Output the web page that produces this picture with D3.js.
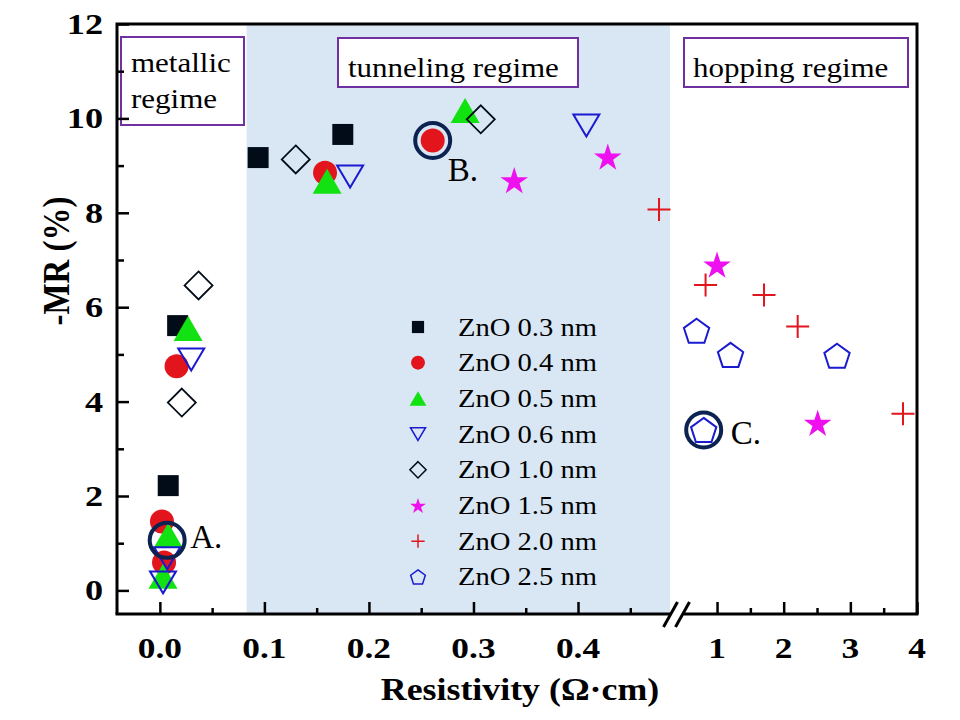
<!DOCTYPE html>
<html><head><meta charset="utf-8">
<script src="https://cdn.jsdelivr.net/npm/d3@7"></script>
<style>body{margin:0;background:#fff}</style>
</head><body>
<svg id="chart" width="960" height="720"></svg>
<script>
// ---------------- data ----------------
const seriesNames = ["ZnO 0.3 nm","ZnO 0.4 nm","ZnO 0.5 nm","ZnO 0.6 nm","ZnO 1.0 nm","ZnO 1.5 nm","ZnO 2.0 nm","ZnO 2.5 nm"];
const zno03_x = [0.008, 0.017, 0.094, 0.175];
const zno03_y = [2.22, 5.61, 9.17, 9.66];
const zno04_x = [0.002, 0.004, 0.016, 0.158, 0.261];
const zno04_y = [1.46, 0.59, 4.75, 8.85, 9.53];
const zno05_x = [0.003, 0.008, 0.027, 0.160, 0.292];
const zno05_y = [0.30, 1.17, 5.55, 8.67, 10.17];
const zno06_x = [0.003, 0.007, 0.030, 0.182, 0.408];
const zno06_y = [0.17, 0.68, 4.89, 8.77, 9.85];
const zno10_x = [0.021, 0.037, 0.130, 0.307];
const zno10_y = [3.98, 6.46, 9.13, 9.98];
const zno15_x = [0.339, 0.4285, 1.0, 2.51];
const zno15_y = [8.69, 9.19, 6.90, 3.55];
const zno20_x = [0.4775, 0.828, 1.705, 2.21, 3.79];
const zno20_y = [8.07, 6.47, 6.26, 5.59, 3.74];
const zno25_x = [0.693, 0.80, 1.203, 2.80];
const zno25_y = [5.50, 3.40, 4.99, 4.97];
const highlightLabels = ["A.", "B.", "C."];
const highlightX = [0.007, 0.261, 0.80];
const highlightY = [1.06, 9.53, 3.40];
const regimeLabels = [["metallic","regime"], ["tunneling regime"], ["hopping regime"]];
const xTicksLeft = [0, 0.1, 0.2, 0.3, 0.4];
const xTickLabelsLeft = ["0.0","0.1","0.2","0.3","0.4"];
const xMinorLeft = [0.05, 0.15, 0.25, 0.35, 0.45];
const xTicksRight = [1, 2, 3, 4];
const xMinorRight = [1.5, 2.5, 3.5];
const yTicks = [0, 2, 4, 6, 8, 10, 12];
const yMinor = [1, 3, 5, 7, 9, 11];
const shadeFrom = 0.083;

// ---------------- layout ----------------
const svg = d3.select("#chart");
const L = 117, T = 24, R = 917, B = 614;
const y = d3.scaleLinear().domain([-0.5, 12]).range([B, T]);
const xL = d3.scaleLinear().domain([-0.041, 0.488]).range([L, 670]);
const xR = d3.scaleLinear().domain([0.5, 4]).range([683.7, R]);
const xPos = v => v < 0.49 ? xL(v) : xR(v);

const C = {
  black: "#020c18", red: "#e2141c", green: "#12e212", blue: "#1a1ad0",
  magenta: "#ee10ee", navy: "#0c2352", shade: "#d9e7f4", purple: "#7030a0"
};
const serif = "'Liberation Serif','Times New Roman',serif";

// symbol paths centred on bounding-box centre
const P = {
  square: s => `M${-s/2},${-s/2}h${s}v${s}h${-s}Z`,
  circle: d => { const r = d/2; return `M${-r},0A${r},${r} 0 1,0 ${r},0A${r},${r} 0 1,0 ${-r},0Z`; },
  triUp: (w, h) => `M0,${-h/2}L${w/2},${h/2}L${-w/2},${h/2}Z`,
  triDown: (w, h) => `M0,${h/2}L${w/2},${-h/2}L${-w/2},${-h/2}Z`,
  diamond: a => `M0,${-a}L${a},0L0,${a}L${-a},0Z`,
  star: r => { const pts = []; const dy = 0.0955*r;
    for (let i = 0; i < 10; i++) { const rr = i % 2 ? r*0.382 : r; const a = -Math.PI/2 + i*Math.PI/5;
      pts.push([rr*Math.cos(a), rr*Math.sin(a) + dy]); }
    return "M" + pts.map(p => p.join(",")).join("L") + "Z"; },
  plus: s => `M${-s/2},0H${s/2}M0,${-s/2}V${s/2}`,
  pentagon: r => { const pts = []; const dy = 0.0955*r;
    for (let i = 0; i < 5; i++) { const a = -Math.PI/2 + i*2*Math.PI/5; pts.push([r*Math.cos(a), r*Math.sin(a) + dy]); }
    return "M" + pts.map(p => p.join(",")).join("L") + "Z"; }
};

const styles = [
  {path: k => P.square(21*k), fill: C.black, stroke: "none", sw: 0},
  {path: k => P.circle(24*k), fill: C.red, stroke: "none", sw: 0},
  {path: k => P.triUp(29*k, 25*k), fill: C.green, stroke: "none", sw: 0},
  {path: k => P.triDown(26*k, 22*k), fill: "none", stroke: C.blue, sw: 2},
  {path: k => P.diamond(14*k), fill: "none", stroke: C.black, sw: 1.8},
  {path: k => P.star(14.5*k), fill: C.magenta, stroke: "none", sw: 0},
  {path: k => P.plus(23*k), fill: "none", stroke: C.red, sw: 2},
  {path: k => P.pentagon(13.3*k), fill: "none", stroke: C.blue, sw: 2}
];
const seriesX = [zno03_x, zno04_x, zno05_x, zno06_x, zno10_x, zno15_x, zno20_x, zno25_x];
const seriesY = [zno03_y, zno04_y, zno05_y, zno06_y, zno10_y, zno15_y, zno20_y, zno25_y];

// ---------------- background shading ----------------
svg.append("rect").attr("x", xL(shadeFrom)).attr("y", T)
  .attr("width", xL.range()[1] - xL(shadeFrom)).attr("height", B - T).attr("fill", C.shade);

// ---------------- regime boxes ----------------
const boxes = [
  {x: 121, y: 37, w: 123, h: 88, tx: 131, ty: [72, 108]},
  {x: 338, y: 38, w: 240, h: 49, tx: 348, ty: [77]},
  {x: 684, y: 38, w: 224, h: 49, tx: 693, ty: [77]}
];
boxes.forEach((b, i) => {
  svg.append("rect").attr("x", b.x).attr("y", b.y).attr("width", b.w).attr("height", b.h)
    .attr("fill", "#fff").attr("stroke", C.purple).attr("stroke-width", 2);
  regimeLabels[i].forEach((t, j) => {
    svg.append("text").attr("transform", `translate(${b.tx},${b.ty[j]}) scale(1.17,1)`)
      .attr("font-family", serif).attr("font-size", 26.5).attr("fill", "#000")
      .attr("xml:space", "preserve").text(t);
  });
});

// ---------------- axes (ticks inward) ----------------
const axisG = svg.append("g");
const yAxis = d3.axisLeft(y).tickValues(yTicks).tickSizeInner(-12).tickSizeOuter(0).tickFormat("");
const yAxisMinor = d3.axisLeft(y).tickValues(yMinor).tickSizeInner(-7).tickSizeOuter(0).tickFormat("");
[yAxis, yAxisMinor].forEach(ax => {
  const g = axisG.append("g").attr("transform", `translate(${L},0)`).call(ax);
  g.select(".domain").remove();
  g.selectAll("line").attr("stroke", "#000").attr("stroke-width", 2.5);
});
const xAxes = [
  d3.axisBottom(xL).tickValues(xTicksLeft).tickSizeInner(-12),
  d3.axisBottom(xL).tickValues(xMinorLeft).tickSizeInner(-6),
  d3.axisBottom(xR).tickValues(xTicksRight).tickSizeInner(-12),
  d3.axisBottom(xR).tickValues(xMinorRight).tickSizeInner(-6)
];
xAxes.forEach(ax => {
  const g = axisG.append("g").attr("transform", `translate(0,${B})`).call(ax.tickSizeOuter(0).tickFormat(""));
  g.select(".domain").remove();
  g.selectAll("line").attr("stroke", "#000").attr("stroke-width", 2.5);
});

// frame
const frame = svg.append("g").attr("stroke", "#000").attr("stroke-width", 3).attr("fill", "none");
frame.append("path").attr("d", `M${L},${B}V${T}H${R}V${B}`);
frame.append("path").attr("d", `M${L-1.5},${B}H${xL.range()[1]}`);
frame.append("path").attr("d", `M${xR.range()[0]},${B}H${R+1.5}`);
// break marks
[670.5, 682.5].forEach(cx => {
  frame.append("path").attr("d", `M${cx-7},${B+13}L${cx+7},${B-12}`).attr("stroke-width", 3);
});

// tick labels
yTicks.forEach(v => {
  svg.append("text").attr("transform", `translate(${L-14},${y(v)+10}) scale(1.25,1)`)
    .attr("text-anchor", "end").attr("font-family", serif).attr("font-weight", "bold")
    .attr("font-size", 29).text(d3.format("d")(v));
});
xTicksLeft.forEach((v, i) => {
  svg.append("text").attr("transform", `translate(${xL(v)},${658}) scale(1.22,1)`)
    .attr("text-anchor", "middle").attr("font-family", serif).attr("font-weight", "bold")
    .attr("font-size", 29).text(xTickLabelsLeft[i]);
});
xTicksRight.forEach(v => {
  svg.append("text").attr("transform", `translate(${xR(v)},${658}) scale(1.22,1)`)
    .attr("text-anchor", "middle").attr("font-family", serif).attr("font-weight", "bold")
    .attr("font-size", 29).text(String(v));
});

// axis titles
svg.append("text").attr("transform", `translate(520,700) scale(1.12,1)`)
  .attr("text-anchor", "middle").attr("font-family", serif).attr("font-weight", "bold")
  .attr("font-size", 32).text("Resistivity (Ω·cm)");
svg.append("text").attr("transform", `translate(69,261) rotate(-90) scale(1,1.12)`)
  .attr("text-anchor", "middle").attr("font-family", serif).attr("font-weight", "bold")
  .attr("font-size", 33).text("-MR (%)");

// ---------------- data points ----------------
const pts = svg.append("g");
seriesX.forEach((xs, si) => {
  const st = styles[si];
  pts.selectAll(null).data(xs.map((v, i) => [v, seriesY[si][i]])).join("path")
    .attr("transform", d => `translate(${xPos(d[0])},${y(d[1])})`)
    .attr("d", st.path(1)).attr("fill", st.fill).attr("stroke", st.stroke)
    .attr("stroke-width", st.sw).attr("stroke-linejoin", "miter");
});

// highlight circles and labels
const labelOffsets = [[23, 8], [15, 40], [27, 14]];
highlightX.forEach((v, i) => {
  const cx = xPos(v), cy = y(highlightY[i]);
  svg.append("circle").attr("cx", cx).attr("cy", cy).attr("r", 17.5)
    .attr("fill", "none").attr("stroke", C.navy).attr("stroke-width", 4);
  svg.append("text").attr("x", cx + labelOffsets[i][0]).attr("y", cy + labelOffsets[i][1])
    .attr("font-family", serif).attr("font-size", 33).attr("fill", "#000").text(highlightLabels[i]);
});

// ---------------- legend ----------------
const lg = svg.append("g");
seriesNames.forEach((name, i) => {
  const ly = 327 + i*35.7;
  const st = styles[i];
  lg.append("path").attr("transform", `translate(418,${ly})`).attr("d", st.path(0.58))
    .attr("fill", st.fill).attr("stroke", st.stroke).attr("stroke-width", st.sw ? 1.5 : 0);
  lg.append("text").attr("transform", `translate(458,${ly + 8.5}) scale(1.1,1)`)
    .attr("font-family", serif).attr("font-size", 26).attr("fill", "#000").text(name);
});
</script>
</body></html>
